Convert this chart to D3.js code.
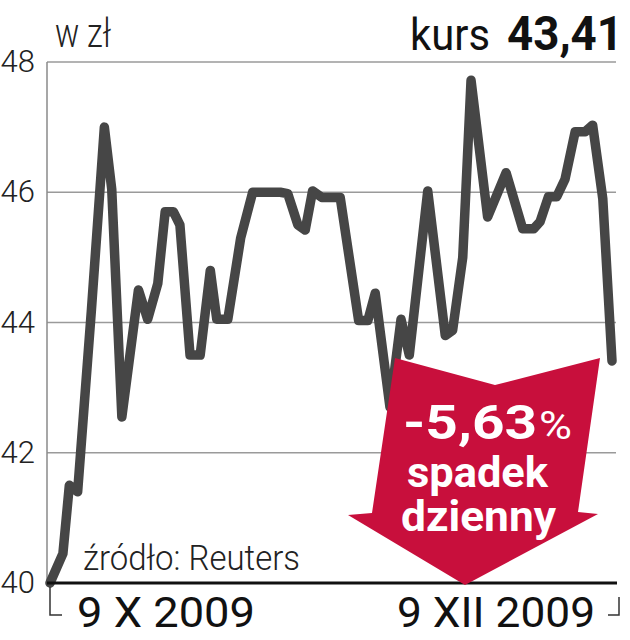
<!DOCTYPE html>
<html>
<head>
<meta charset="utf-8">
<script src="https://cdnjs.cloudflare.com/ajax/libs/d3/7.8.5/d3.min.js"></script>
<style>
body { margin: 0; background: #fff; }
text { font-family: Roboto, "DejaVu Sans", sans-serif; }
</style>
</head>
<body>
<svg width="630" height="640"></svg>
<script>
// dni od 9 X 2009
var dni = [0, 1.4, 2.1, 3.0, 4.5, 5.9, 6.7, 7.8, 9.6, 10.6, 11.7, 12.5, 13.4, 14.1,
  15.2, 16.3, 17.4, 18.1, 19.3, 20.7, 22.0, 25.0, 25.8, 26.9, 27.7, 28.5, 29.5,
  31.5, 33.5, 34.5, 35.3, 36.9, 38.1, 39.0, 41.0, 42.9, 43.7, 44.8, 45.7, 47.5,
  49.5, 51.3, 52.5, 53.2, 54.1, 55.0, 55.9, 57.0, 58.1, 58.9, 60.0, 61.0];
var kurs = [40.0, 40.45, 41.5, 41.4, 44.2, 47.0, 46.05, 42.55, 44.5, 44.05, 44.6, 45.7, 45.7, 45.5,
  43.5, 43.5, 44.8, 44.05, 44.05, 45.3, 46.0, 46.0, 45.98, 45.5, 45.42, 46.02, 45.92,
  45.92, 44.03, 44.03, 44.45, 42.7, 44.05, 43.5, 46.02, 43.8, 43.88, 45.0, 47.72, 45.62,
  46.3, 45.44, 45.44, 45.55, 45.93, 45.93, 46.2, 46.93, 46.93, 47.03, 45.9, 43.41];
var yTicks = [40, 42, 44, 46, 48];
var dataStart = "9 X 2009";
var dataEnd = "9 XII 2009";
var kursText = "43,41";
var zmiana = "-5,63";

var svg = d3.select("svg");

var x = d3.scaleLinear().domain([0, 61]).range([50, 612]);
var y = d3.scaleLinear().domain([40, 48]).range([583, 62]);

// siatka
svg.append("g")
  .selectAll("line")
  .data(yTicks.slice(1))
  .enter()
  .append("line")
  .attr("x1", 47).attr("x2", 616)
  .attr("y1", function (d) { return y(d); })
  .attr("y2", function (d) { return y(d); })
  .attr("stroke", "#9a9a9a")
  .attr("stroke-width", 1.5);

svg.append("line")
  .attr("x1", 47).attr("x2", 47)
  .attr("y1", y(48)).attr("y2", y(40))
  .attr("stroke", "#8a8a8a")
  .attr("stroke-width", 1.5);

// etykiety osi Y
svg.append("g")
  .selectAll("text")
  .data(yTicks)
  .enter()
  .append("text")
  .attr("x", 35)
  .attr("y", function (d) { return y(d) + 2; })
  .attr("text-anchor", "end")
  .attr("dominant-baseline", "middle")
  .attr("font-size", 31)
  .attr("font-weight", 300)
  .attr("fill", "#222")
  .text(function (d) { return d; });

// linia kursu
var line = d3.line()
  .x(function (d, i) { return x(dni[i]); })
  .y(function (d) { return y(d); });

svg.append("path")
  .datum(kurs)
  .attr("d", line)
  .attr("fill", "none")
  .attr("stroke", "#464646")
  .attr("stroke-width", 9.5)
  .attr("stroke-linejoin", "round")
  .attr("stroke-linecap", "round");

// os X
svg.append("line")
  .attr("x1", 47).attr("x2", 617)
  .attr("y1", y(40)).attr("y2", y(40))
  .attr("stroke", "#111")
  .attr("stroke-width", 3);

svg.append("path")
  .attr("d", "M50,587V615H62")
  .attr("fill", "none").attr("stroke", "#333").attr("stroke-width", 1.5);
svg.append("path")
  .attr("d", "M619,597V615H608")
  .attr("fill", "none").attr("stroke", "#333").attr("stroke-width", 1.5);

svg.append("text")
  .attr("x", 77).attr("y", 627)
  .attr("font-size", 42)
  .attr("textLength", 178).attr("lengthAdjust", "spacingAndGlyphs")
  .attr("fill", "#111")
  .text(dataStart);
svg.append("text")
  .attr("x", 397).attr("y", 627)
  .attr("font-size", 42)
  .attr("textLength", 198).attr("lengthAdjust", "spacingAndGlyphs")
  .attr("fill", "#111")
  .text(dataEnd);

svg.append("text")
  .attr("x", 83).attr("y", 570)
  .attr("font-size", 35)
  .attr("font-weight", 300)
  .attr("textLength", 217).attr("lengthAdjust", "spacingAndGlyphs")
  .attr("fill", "#222")
  .text("źródło: Reuters");

// naglowek
svg.append("text")
  .attr("x", 55).attr("y", 47)
  .attr("font-size", 40)
  .attr("font-weight", 300)
  .attr("textLength", 56).attr("lengthAdjust", "spacingAndGlyphs")
  .attr("fill", "#222")
  .text("w zł");

svg.append("text")
  .attr("x", 410).attr("y", 50)
  .attr("font-size", 44)
  .attr("textLength", 80).attr("lengthAdjust", "spacingAndGlyphs")
  .attr("fill", "#111")
  .text("kurs");
svg.append("text")
  .attr("x", 507).attr("y", 50)
  .attr("font-size", 48)
  .attr("font-weight", 700)
  .attr("textLength", 116).attr("lengthAdjust", "spacingAndGlyphs")
  .attr("fill", "#111")
  .text(kursText);

// strzalka spadku
svg.append("path")
  .attr("d", "M395,358L495,385L600,358L578,512L598,514L465,585L348,515L372,513Z")
  .attr("fill", "#c80f3c");

svg.append("text")
  .attr("x", 403).attr("y", 439)
  .attr("font-size", 48).attr("font-weight", 700)
  .attr("textLength", 134).attr("lengthAdjust", "spacingAndGlyphs")
  .attr("fill", "#fff")
  .text(zmiana);
svg.append("text")
  .attr("x", 539).attr("y", 439)
  .attr("font-size", 38).attr("font-weight", 400)
  .attr("textLength", 33).attr("lengthAdjust", "spacingAndGlyphs")
  .attr("fill", "#fff")
  .text("%");

svg.append("text")
  .attr("x", 407).attr("y", 487)
  .attr("font-size", 43).attr("font-weight", 700)
  .attr("textLength", 141).attr("lengthAdjust", "spacingAndGlyphs")
  .attr("fill", "#fff")
  .text("spadek");
svg.append("text")
  .attr("x", 401).attr("y", 531)
  .attr("font-size", 43).attr("font-weight", 700)
  .attr("textLength", 155).attr("lengthAdjust", "spacingAndGlyphs")
  .attr("fill", "#fff")
  .text("dzienny");
</script>
</body>
</html>
